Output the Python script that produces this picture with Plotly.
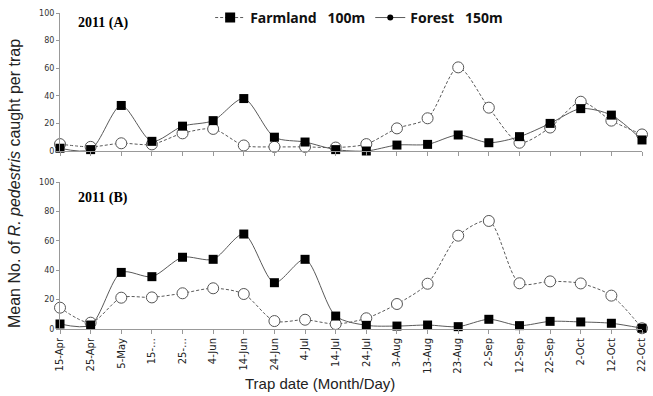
import plotly.graph_objects as go
from plotly.subplots import make_subplots

dates = ["15-Apr", "25-Apr", "5-May", "15-\u2026", "25-\u2026", "4-Jun", "14-Jun", "24-Jun", "4-Jul",
         "14-Jul", "24-Jul", "3-Aug", "13-Aug", "23-Aug", "2-Sep", "12-Sep", "22-Sep", "2-Oct",
         "12-Oct", "22-Oct"]

farm_a = [2, 1, 33, 7, 18, 22, 38, 10, 6.5, 1, 0, 4.3, 4.8, 11.6, 6, 10.4, 20, 30.7, 26, 8]
forest_a = [5, 3, 5.6, 4.8, 12.8, 16, 4, 3, 3, 2.5, 5, 16.4, 23.7, 60.6, 31.4, 6, 17, 35.7, 22, 12]

farm_b = [3.4, 2.7, 38.5, 35.6, 48.8, 47.4, 64.6, 31.5, 47.4, 8.8, 2.5, 2, 2.7, 1.6, 6.6, 2.3, 5.2, 4.8, 3.9, 0.5]
forest_b = [14.5, 4.3, 21.3, 21.5, 24.3, 27.7, 23.8, 5.4, 6.3, 3.4, 7.3, 17, 30.8, 63.5, 73.5, 31.1, 32.4, 31, 22.7, 0.5]

y_ticks = [0, 20, 40, 60, 80, 100]

LINE = "#5a5a5a"
DASH = "3px,2px"

fig = make_subplots(rows=2, cols=1, shared_xaxes=False, vertical_spacing=0.0)

for row, farm, forest in [(1, farm_a, forest_a), (2, farm_b, forest_b)]:
    fig.add_trace(go.Scatter(
        x=dates, y=forest, mode="lines+markers", showlegend=False, cliponaxis=False,
        line=dict(color=LINE, width=1, dash=DASH, shape="spline", smoothing=0.8),
        marker=dict(symbol="circle", size=11, color="white", line=dict(color="#555555", width=1)),
    ), row=row, col=1)
    fig.add_trace(go.Scatter(
        x=dates, y=farm, mode="lines+markers", showlegend=False, cliponaxis=False,
        line=dict(color=LINE, width=1, shape="spline", smoothing=0.8),
        marker=dict(symbol="square", size=9, color="black"),
    ), row=row, col=1)

# legend entries (as shown in the original figure)
fig.add_trace(go.Scatter(x=[None], y=[None], mode="lines+markers",
                         name="<b>Farmland\u00a0\u00a0\u00a0100m</b>",
                         line=dict(color=LINE, width=1, dash=DASH),
                         marker=dict(symbol="square", size=10, color="black")), row=1, col=1)
fig.add_trace(go.Scatter(x=[None], y=[None], mode="lines+markers",
                         name="<b>Forest\u00a0\u00a0\u00a0150m</b>",
                         line=dict(color=LINE, width=1),
                         marker=dict(symbol="circle", size=6, color="black")), row=1, col=1)

top_dom = [(329 - 151) / 316, 1.0]
bot_dom = [0.0, (329 - 182) / 316]

xcommon = dict(type="category", categoryorder="array", categoryarray=dates, range=[0, 19],
               showline=True, linecolor="#999999", linewidth=1, ticks="outside", ticklen=4,
               tickcolor="#999999", showgrid=False, zeroline=False)
ycommon = dict(range=[0, 100], tickvals=y_ticks, showline=True, linecolor="#999999", linewidth=1,
               ticks="outside", ticklen=3, tickcolor="#999999", showgrid=False, zeroline=False,
               tickfont=dict(family="DejaVu Sans", size=8, color="#333333"))

fig.update_xaxes(**xcommon, showticklabels=False, row=1, col=1)
fig.update_xaxes(**xcommon, showticklabels=True, tickangle=-90,
                 tickfont=dict(family="DejaVu Sans", size=10, color="#222222"), row=2, col=1)
fig.update_yaxes(**ycommon, domain=top_dom, row=1, col=1)
fig.update_yaxes(**ycommon, domain=bot_dom, row=2, col=1)

fig.update_layout(
    width=653, height=396,
    margin=dict(l=60, r=11, t=13, b=67, autoexpand=False),
    plot_bgcolor="white", paper_bgcolor="white",
    showlegend=True,
    legend=dict(orientation="h", x=0.258, y=1.035, xanchor="left", yanchor="top",
                font=dict(family="Noto Sans", size=14, color="#111111"),
                bgcolor="rgba(0,0,0,0)", itemwidth=30, tracegroupgap=0),
    annotations=[
        dict(text="<b>2011 (A)</b>", x=0.028, y=1.0, xref="paper", yref="paper",
             xanchor="left", yanchor="top", showarrow=False,
             font=dict(family="Liberation Serif", size=14, color="black")),
        dict(text="<b>2011 (B)</b>", x=0.028, y=0.445, xref="paper", yref="paper",
             xanchor="left", yanchor="top", showarrow=False,
             font=dict(family="Liberation Serif", size=14, color="black")),
        dict(text="Mean No. of <i>R. pedestris</i> caught per trap", textangle=-90,
             x=(14 - 60) / 582, y=(329 - 184) / 316, xref="paper", yref="paper",
             xanchor="center", yanchor="middle", showarrow=False,
             font=dict(family="Liberation Sans", size=16, color="#222222")),
        dict(text="Trap date (Month/Day)", x=(320 - 60) / 582, y=(329 - 383) / 316,
             xref="paper", yref="paper", xanchor="center", yanchor="middle", showarrow=False,
             font=dict(family="Liberation Sans", size=15, color="#222222")),
    ],
)

fig.write_html("out.html", config={"displayModeBar": False},
               post_script="document.body.style.margin='0';")
